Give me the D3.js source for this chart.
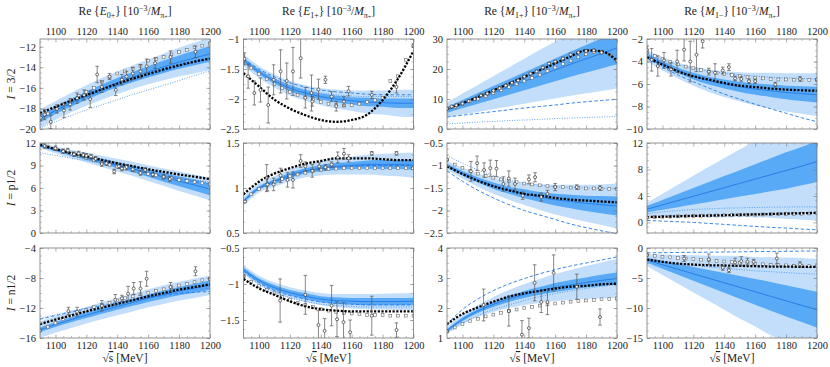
<!DOCTYPE html>
<html>
<head>
<meta charset="utf-8">
<script src="https://cdn.jsdelivr.net/npm/d3@7"></script>
<style>
body{margin:0;background:#fff}
svg, svg text{font-family:"Liberation Serif","DejaVu Serif",serif}
</style>
</head>
<body>
<svg width="830" height="367"></svg>
<script>
// panels in reading order: row I=3/2, I=p1/2, I=n1/2 ; columns E0+, E1+, M1+, M1-
const energies = [1090,1100,1110,1120,1130,1140,1150,1160,1170,1180,1190,1200]
const sqEnergies = [1090,1095,1100,1105,1110,1115,1120,1125,1130,1135,1140,1145,1150,1155,1160,1165,1170,1175,1180,1185,1190,1195,1200]
const xTicks = [1100,1120,1140,1160,1180,1200]

const titles = [["E","0+"],["E","1+"],["M","1+"],["M","1−"]]
const rowLabels = ["3/2","p1/2","n1/2"]

const yDomains = [[-20,-11.25],[-2.5,-1],[0,30],[-10,-2],
                  [0,12],[0.5,1.5],[-2.5,-0.5],[-1.6,12],
                  [-16,-4],[-1.75,-0.5],[1,4],[-15,0]]
const yTicks = [[-20,-18,-16,-14,-12],[-2.5,-2,-1.5,-1],[0,10,20,30],[-10,-8,-6,-4,-2],
                [0,3,6,9,12],[0.5,1,1.5],[-2.5,-2,-1.5,-1,-0.5],[0,4,8,12],
                [-16,-12,-8,-4],[-1.5,-1,-0.5],[1,2,3,4],[-15,-10,-5,0]]

const blueMid = [
  [-19.0,-18.2,-17.45,-16.75,-16.1,-15.5,-14.95,-14.45,-13.95,-13.5,-13.1,-12.7],
  [-1.35,-1.55,-1.7,-1.82,-1.9,-1.96,-2.0,-2.03,-2.05,-2.06,-2.07,-2.07],
  [6.3,8.3,10.2,12.1,14.0,15.9,17.8,19.7,21.6,23.4,25.2,27.0],
  [-3.5,-4.2,-4.8,-5.3,-5.7,-6.0,-6.25,-6.45,-6.6,-6.75,-6.85,-6.95],
  [11.7,11.1,10.55,10.05,9.55,9.05,8.55,8.0,7.45,6.9,6.4,5.85],
  [0.85,1.0,1.07,1.14,1.19,1.22,1.24,1.25,1.26,1.26,1.26,1.255],
  [-1.0,-1.17,-1.32,-1.45,-1.55,-1.63,-1.7,-1.76,-1.8,-1.84,-1.87,-1.9],
  [2.0,2.65,3.3,3.95,4.6,5.25,5.9,6.55,7.2,7.85,8.5,9.2],
  [-14.9,-14.2,-13.55,-12.95,-12.35,-11.8,-11.25,-10.7,-10.2,-9.75,-9.35,-8.95],
  [-0.8,-0.95,-1.05,-1.12,-1.17,-1.21,-1.23,-1.24,-1.245,-1.245,-1.245,-1.24],
  [1.25,1.62,1.9,2.12,2.3,2.45,2.57,2.68,2.77,2.85,2.92,2.98],
  [-2.0,-2.8,-3.55,-4.3,-5.05,-5.8,-6.55,-7.3,-8.05,-8.8,-9.55,-10.3]
]
const innerWidth = [
  [0.35,0.35,0.38,0.4,0.42,0.45,0.5,0.55,0.6,0.65,0.7,0.75],
  [0.04,0.04,0.04,0.05,0.05,0.05,0.06,0.06,0.07,0.07,0.08,0.08],
  [1.0,1.4,1.8,2.2,2.6,3.0,3.4,3.8,4.2,4.6,5.0,5.4],
  [0.2,0.22,0.25,0.3,0.35,0.4,0.45,0.5,0.55,0.6,0.65,0.7],
  [0.15,0.2,0.25,0.3,0.35,0.4,0.45,0.5,0.6,0.65,0.75,0.8],
  [0.02,0.02,0.025,0.03,0.03,0.035,0.04,0.04,0.045,0.05,0.05,0.055],
  [0.04,0.05,0.06,0.07,0.08,0.1,0.11,0.13,0.15,0.17,0.19,0.21],
  [0.5,0.75,1.0,1.25,1.5,1.75,2.0,2.25,2.5,2.75,2.9,3.1],
  [0.3,0.32,0.35,0.38,0.4,0.43,0.46,0.5,0.53,0.56,0.6,0.63],
  [0.03,0.03,0.035,0.035,0.04,0.04,0.045,0.045,0.05,0.05,0.05,0.05],
  [0.05,0.06,0.07,0.09,0.1,0.12,0.13,0.15,0.16,0.17,0.19,0.2],
  [0.4,0.65,0.9,1.15,1.4,1.65,1.9,2.15,2.4,2.6,2.8,3.0]
]
const outerWidth = [
  [0.9,0.9,0.95,1.0,1.05,1.1,1.15,1.2,1.3,1.4,1.5,1.6],
  [0.1,0.1,0.11,0.12,0.13,0.14,0.16,0.17,0.19,0.2,0.22,0.23],
  [2.5,3.5,4.5,5.5,6.5,7.5,8.5,9.5,10.5,11.5,12.5,13.5],
  [0.5,0.6,0.7,0.85,1.0,1.15,1.3,1.45,1.6,1.7,1.8,1.9],
  [0.35,0.45,0.55,0.65,0.75,0.85,0.95,1.05,1.15,1.3,1.4,1.5],
  [0.05,0.05,0.06,0.065,0.07,0.08,0.09,0.1,0.11,0.12,0.13,0.14],
  [0.1,0.12,0.15,0.18,0.21,0.25,0.29,0.33,0.37,0.41,0.45,0.5],
  [1.0,1.7,2.4,3.1,3.8,4.5,5.1,5.8,6.5,7.3,8.1,8.9],
  [1.1,1.1,1.1,1.1,1.15,1.15,1.2,1.2,1.25,1.25,1.3,1.3],
  [0.06,0.065,0.07,0.075,0.08,0.085,0.09,0.1,0.105,0.11,0.115,0.12],
  [0.12,0.16,0.2,0.25,0.3,0.35,0.4,0.45,0.5,0.55,0.6,0.65],
  [1.0,1.7,2.4,3.1,3.8,4.5,5.2,5.8,6.5,7.2,7.9,8.5]
]
const blueDash = [
  [-19.0,-18.25,-17.55,-16.9,-16.3,-15.75,-15.25,-14.8,-14.35,-13.9,-13.5,-13.1],
  [-1.33,-1.5,-1.63,-1.73,-1.8,-1.85,-1.88,-1.9,-1.92,-1.93,-1.93,-1.93],
  [4.0,4.6,5.2,5.8,6.4,7.0,7.5,8.0,8.6,9.1,9.5,9.9],
  [-3.7,-4.5,-5.2,-5.8,-6.35,-6.9,-7.35,-7.8,-8.2,-8.6,-9.0,-9.35],
  [11.6,11.05,10.5,10.0,9.5,9.0,8.5,8.05,7.6,7.2,6.85,6.5],
  [0.85,0.99,1.07,1.13,1.18,1.21,1.23,1.24,1.25,1.25,1.25,1.25],
  [-1.12,-1.35,-1.55,-1.72,-1.87,-2.0,-2.1,-2.2,-2.3,-2.38,-2.45,-2.52],
  [0.3,0.2,0.1,0.0,-0.15,-0.3,-0.45,-0.6,-0.75,-0.85,-1.0,-1.1],
  [-13.5,-13.0,-12.55,-12.1,-11.7,-11.3,-10.95,-10.6,-10.3,-10.05,-9.9,-9.8],
  [-0.82,-0.98,-1.09,-1.16,-1.21,-1.25,-1.27,-1.28,-1.29,-1.29,-1.29,-1.29],
  [1.45,1.95,2.3,2.58,2.8,2.98,3.14,3.28,3.4,3.5,3.6,3.7],
  [-0.8,-0.78,-0.75,-0.72,-0.7,-0.67,-0.64,-0.6,-0.57,-0.55,-0.52,-0.5]
]
const blueDot = [
  [-19.9,-19.3,-18.7,-18.15,-17.65,-17.15,-16.65,-16.2,-15.75,-15.3,-14.8,-14.35],
  [-1.35,-1.52,-1.66,-1.77,-1.85,-1.9,-1.93,-1.95,-1.96,-1.96,-1.96,-1.96],
  [1.7,2.0,2.3,2.5,2.8,3.0,3.2,3.45,3.65,3.85,4.0,4.2],
  [-3.3,-3.9,-4.3,-4.6,-4.85,-5.05,-5.2,-5.3,-5.4,-5.45,-5.5,-5.55],
  [10.7,10.35,10.0,9.65,9.25,8.9,8.5,8.15,7.8,7.45,7.1,6.8],
  [0.86,1.0,1.08,1.15,1.2,1.23,1.25,1.26,1.27,1.27,1.27,1.27],
  [-0.78,-0.95,-1.1,-1.22,-1.32,-1.39,-1.44,-1.47,-1.49,-1.5,-1.51,-1.52],
  [1.3,1.6,1.8,1.95,2.05,2.15,2.2,2.25,2.3,2.32,2.35,2.35],
  [-13.4,-12.9,-12.45,-12.0,-11.6,-11.2,-10.8,-10.45,-10.1,-9.8,-9.55,-9.35],
  [-0.84,-1.0,-1.11,-1.19,-1.24,-1.28,-1.3,-1.31,-1.32,-1.32,-1.32,-1.32],
  [1.2,1.5,1.75,1.95,2.1,2.25,2.38,2.48,2.57,2.65,2.72,2.78],
  [-1.9,-2.3,-2.6,-2.9,-3.15,-3.4,-3.6,-3.8,-3.95,-4.1,-4.25,-4.35]
]
const blackDots = [
  [-18.45,-17.85,-17.25,-16.7,-16.15,-15.6,-15.1,-14.65,-14.2,-13.8,-13.45,-13.15],
  [-1.57,-1.79,-2.01,-2.16,-2.27,-2.35,-2.38,-2.35,-2.26,-2.02,-1.66,-1.2],
  [6.7,8.6,10.7,12.9,15.1,17.4,19.6,21.9,24.2,26.2,25.9,22.8],
  [-3.6,-4.28,-4.87,-5.32,-5.61,-5.91,-6.15,-6.27,-6.41,-6.5,-6.56,-6.6],
  [11.75,11.2,10.65,10.2,9.75,9.3,8.9,8.5,8.15,7.8,7.5,7.2],
  [0.93,1.07,1.16,1.22,1.27,1.3,1.33,1.33,1.33,1.32,1.31,1.31],
  [-1.02,-1.19,-1.34,-1.46,-1.55,-1.63,-1.67,-1.72,-1.76,-1.78,-1.8,-1.82],
  [0.8,0.86,0.92,0.98,1.03,1.09,1.15,1.21,1.27,1.33,1.39,1.44],
  [-14.15,-13.55,-13.0,-12.45,-11.95,-11.45,-10.95,-10.45,-10.0,-9.55,-9.2,-8.85],
  [-0.93,-1.06,-1.15,-1.24,-1.31,-1.35,-1.37,-1.38,-1.38,-1.38,-1.38,-1.38],
  [1.46,1.8,2.02,2.21,2.38,2.49,2.57,2.65,2.71,2.74,2.79,2.81],
  [-1.93,-2.3,-2.6,-2.76,-2.87,-2.92,-2.98,-3.03,-3.09,-3.09,-3.14,-3.14]
]
const squares = [
  [-19.0,-18.5,-18.0,-17.6,-17.2,-16.8,-16.4,-16.0,-15.4,-14.95,-14.6,-14.4,-14.15,-13.85,-13.35,-13.2,-13.0,-12.75,-12.5,-12.3,-12.05,-11.9,-11.7],
  [-1.35,-1.48,-1.58,-1.67,-1.75,-1.82,-1.88,-1.93,-1.97,-2.01,-2.05,-2.08,-2.1,-2.11,-2.1,-2.08,-2.05,-2.02,-1.98,-1.7,-1.62,-1.35,-1.12],
  [6.6,7.4,8.3,9.2,10.1,11.0,12.0,12.9,13.9,14.9,16.0,17.0,18.1,19.3,20.5,21.7,22.8,23.9,24.9,25.6,25.8,24.8,22.8],
  [-3.2,-3.5,-3.8,-4.05,-4.25,-4.45,-4.6,-4.75,-4.9,-5.0,-5.1,-5.2,-5.3,-5.4,-5.45,-5.5,-5.55,-5.6,-5.6,-5.62,-5.62,-5.63,-5.63],
  [11.9,11.5,11.2,10.9,10.6,10.3,10.0,9.7,9.4,9.1,8.85,8.6,8.35,8.1,7.9,7.7,7.5,7.3,7.1,6.95,6.8,6.65,6.5],
  [0.85,0.93,0.99,1.03,1.07,1.1,1.13,1.15,1.17,1.19,1.2,1.21,1.215,1.22,1.22,1.22,1.22,1.22,1.22,1.22,1.22,1.22,1.22],
  [-0.88,-0.98,-1.05,-1.12,-1.18,-1.23,-1.27,-1.31,-1.34,-1.37,-1.4,-1.42,-1.44,-1.46,-1.47,-1.48,-1.49,-1.5,-1.51,-1.51,-1.52,-1.52,-1.52],
  [0.75,0.8,0.85,0.88,0.92,0.95,0.98,1.0,1.03,1.05,1.08,1.1,1.12,1.15,1.17,1.2,1.22,1.25,1.27,1.3,1.32,1.35,1.38],
  [-15.0,-14.5,-14.0,-13.5,-13.1,-12.7,-12.3,-11.9,-11.6,-11.3,-11.0,-10.7,-10.45,-10.2,-9.95,-9.7,-9.5,-9.25,-9.0,-8.8,-8.55,-8.3,-8.1],
  [-0.9,-0.97,-1.03,-1.08,-1.13,-1.18,-1.22,-1.26,-1.29,-1.32,-1.35,-1.37,-1.39,-1.4,-1.41,-1.42,-1.43,-1.43,-1.43,-1.44,-1.44,-1.44,-1.44],
  [1.22,1.35,1.47,1.56,1.64,1.72,1.78,1.84,1.9,1.95,2.0,2.04,2.08,2.12,2.15,2.18,2.21,2.23,2.25,2.27,2.29,2.3,2.32],
  [-1.1,-1.3,-1.45,-1.55,-1.65,-1.75,-1.85,-1.95,-2.05,-2.15,-2.25,-2.35,-2.45,-2.55,-2.65,-2.72,-2.8,-2.85,-2.9,-2.95,-3.0,-3.02,-3.05]
]
const pointX = [
  [1090.4,1093,1097,1101,1105.5,1109.5,1114,1118.5,1122.5,1127,1130,1135,1139,1143,1146,1150,1155,1159,1164.5,1174.5,1190.6],
  [1090.6,1093,1097,1101,1106,1109.5,1114,1118,1122,1127,1130,1134,1134.5,1138.5,1143,1147,1150,1155,1158,1173,1189,1200],
  [1090,1093,1096,1100,1104,1108,1112,1116,1120,1124,1128,1132,1136,1140,1144,1148,1152,1156,1160,1165,1170,1175,1180,1185,1190,1200],
  [1090,1093,1097,1101,1105.5,1109.5,1114,1118,1122,1126,1130,1134,1139,1143,1147,1151,1156,1160,1173,1189,1200],
  [1093,1100,1105,1108,1112,1115,1118,1120,1123,1126,1130,1133,1138,1141,1143,1146,1150,1155,1158,1163,1170,1174],
  [1091,1105,1105.5,1109.5,1114,1118.5,1122,1127,1130,1134.5,1139,1143,1147,1151,1155,1158,1173,1189,1199.5],
  [1090,1105.5,1109.5,1114,1118,1122,1126.5,1130,1134,1139,1143,1147,1151,1155,1160,1174,1189],
  [1090],
  [1090,1108.4,1114,1130,1138.7,1143,1147,1150.6,1155,1159,1174.5,1190.6,1200],
  [1090,1113.7,1130,1138.5,1142.5,1147,1150.5,1154.7,1159,1173,1189],
  [1090,1113.7,1130,1138.5,1143,1146.7,1151,1155,1159,1174,1189],
  [1090,1114,1130,1139,1143,1147,1151,1155,1159,1174,1189]
]
const pointY = [
  [-18.9,-18.6,-19.3,-18.05,-18.2,-17.6,-17.0,-16.7,-17.1,-14.7,-15.9,-14.9,-16.2,-15.2,-14.9,-14.6,-14.4,-13.9,-13.6,-13.0,-12.5],
  [-1.33,-1.62,-1.9,-1.85,-2.1,-1.68,-1.54,-1.7,-1.54,-1.32,-1.98,-1.9,-2.04,-1.84,-1.68,-1.96,-2.12,-2.04,-1.87,-1.93,-1.8,-1.11],
  [6.8,7.5,7.9,8.5,9.3,10.0,11.2,11.8,12.8,13.6,14.5,15.4,16.2,17.5,18.5,19.2,20.5,21.8,22.5,23.5,24.8,25.5,26.0,26.2,25.5,22.8],
  [-2.95,-3.85,-4.4,-3.9,-4.7,-4.0,-2.95,-4.0,-3.4,-2.2,-4.9,-5.0,-4.8,-4.5,-5.5,-5.55,-5.75,-5.75,-6.05,-5.55,-5.6],
  [11.6,11.3,10.9,11.0,10.5,10.6,10.4,10.3,10.2,9.9,9.2,9.3,8.2,8.9,8.6,8.8,8.5,8.0,8.4,7.8,7.5,7.2],
  [0.85,1.11,1.04,1.04,1.14,1.09,1.09,1.3,1.24,1.19,1.24,1.23,1.26,1.34,1.38,1.33,1.385,1.385,1.22],
  [-0.87,-1.13,-0.95,-1.1,-1.06,-1.07,-1.41,-1.29,-1.41,-1.67,-1.31,-1.26,-1.7,-1.63,-1.48,-1.48,-1.5],
  [0.75],
  [-15.0,-12.4,-12.5,-11.7,-10.9,-10.7,-10.1,-9.4,-9.4,-8.1,-9.2,-7.1,-8.15],
  [-0.89,-1.23,-1.15,-1.57,-1.65,-1.3,-1.49,-1.53,-1.67,-1.44,-1.64],
  [1.22,2.1,1.9,1.11,1.33,2.84,2.2,2.2,3.17,2.71,1.7],
  [-1.2,-1.75,-1.9,-3.3,-3.7,-2.4,-2.2,-2.3,-2.3,-1.75,-2.7]
]
const pointErr = [
  [0.3,0.5,0.65,0.4,0.7,0.55,0.5,0.5,0.8,0.8,0.55,0.3,0.55,0.5,0.5,0.6,0.65,0.7,0.5,0.6,0.55],
  [0.1,0.2,0.2,0.2,0.3,0.25,0.36,0.3,0.4,0.33,0.17,0.3,0.08,0.17,0.06,0.08,0.08,0.08,0.08,0.06,0.1,0.03],
  [0.4,0.4,0.4,0.4,0.4,0.4,0.4,0.4,0.4,0.4,0.4,0.4,0.4,0.4,0.4,0.4,0.4,0.4,0.4,0.4,0.4,0.4,0.4,0.4,0.4,0.4],
  [0.3,1.0,0.9,0.7,0.6,1.0,1.0,1.8,1.5,0.6,0.3,0.8,0.3,0.3,0.2,0.2,0.2,0.2,0.2,0.2,0.1],
  [0.3,0.3,0.3,0.3,0.3,0.3,0.3,0.3,0.3,0.3,0.3,0.3,0.3,0.3,0.3,0.3,0.3,0.3,0.3,0.3,0.3,0.3],
  [0.01,0.15,0.07,0.07,0.08,0.08,0.09,0.07,0.05,0.07,0.04,0.03,0.03,0.06,0.06,0.04,0.02,0.02,0.01],
  [0.02,0.22,0.16,0.16,0.18,0.18,0.16,0.17,0.13,0.08,0.1,0.1,0.09,0.08,0.08,0.05,0.05],
  [0.05],
  [0.1,0.5,0.6,0.7,0.7,0.4,1.0,0.8,0.9,1.0,0.6,0.6,0.1],
  [0.02,0.3,0.27,0.2,0.17,0.28,0.24,0.27,0.17,0.27,0.1],
  [0.02,0.53,0.5,0.47,0.33,0.6,0.35,0.42,0.6,0.42,0.27],
  [0.1,0.5,0.9,0.4,0.4,0.7,0.75,0.6,0.4,0.9,0.4]
]

const svg = d3.select("svg")
const serif = "'Liberation Serif', 'DejaVu Serif', serif"

const colLeft = [40, 243.5, 447, 647]
const rowTop = [39, 143, 248]
const pw = 170, ph = 90

const lightBlue = "#c2defb"
const darkBlue = "#58a9f6"
const lineBlue = "#2479e4"

const fmt = v => String(v).replace("-", "−")

for (let i = 0; i < 12; i++) {
    const r = Math.floor(i / 4), c = i % 4
    const x0 = colLeft[c], y0 = rowTop[r]

    const x = d3.scaleLinear().domain([1090, 1200]).range([x0, x0 + pw])
    const y = d3.scaleLinear().domain(yDomains[i]).range([y0 + ph, y0])

    const g = svg.append("g").attr("class", "panel")

    g.append("clipPath").attr("id", "clip" + i)
        .append("rect").attr("x", x0).attr("y", y0).attr("width", pw).attr("height", ph)

    const body = g.append("g").attr("clip-path", `url(#clip${i})`)

    const pts = energies.map((e, k) => ({e: e, m: blueMid[i][k], wi: innerWidth[i][k], wo: outerWidth[i][k]}))

    body.append("path")
        .datum(pts)
        .attr("fill", lightBlue)
        .attr("d", d3.area().curve(d3.curveMonotoneX)
            .x(d => x(d.e)).y0(d => y(d.m - d.wo)).y1(d => y(d.m + d.wo)))

    body.append("path")
        .datum(pts)
        .attr("fill", darkBlue)
        .attr("d", d3.area().curve(d3.curveMonotoneX)
            .x(d => x(d.e)).y0(d => y(d.m - d.wi)).y1(d => y(d.m + d.wi)))

    const line = d3.line().curve(d3.curveMonotoneX)
        .x((d, k) => x(energies[k])).y(d => y(d))

    body.append("path").datum(blueMid[i])
        .attr("fill", "none").attr("stroke", lineBlue).attr("stroke-width", 0.9)
        .attr("d", line)
    body.append("path").datum(blueDash[i])
        .attr("fill", "none").attr("stroke", lineBlue).attr("stroke-width", 0.9)
        .attr("stroke-dasharray", "3.5,2.2")
        .attr("d", line)
    body.append("path").datum(blueDot[i])
        .attr("fill", "none").attr("stroke", "#3d8ef0").attr("stroke-width", 0.9)
        .attr("stroke-dasharray", "0.9,1.6")
        .attr("d", line)

    // open squares
    body.selectAll("rect.sq")
        .data(squares[i])
        .enter()
        .append("rect")
        .attr("class", "sq")
        .attr("x", (d, k) => x(sqEnergies[k]) - 1.4)
        .attr("y", d => y(d) - 1.4)
        .attr("width", 2.8)
        .attr("height", 2.8)
        .attr("fill", "#fff")
        .attr("stroke", "#666")
        .attr("stroke-width", 0.6)

    body.append("path").datum(blackDots[i])
        .attr("fill", "none").attr("stroke", "#000").attr("stroke-width", 2.3)
        .attr("stroke-dasharray", "2.2,1.5")
        .attr("d", line)

    // data with error bars
    const data = pointX[i].map((e, k) => ({e: e, v: pointY[i][k], s: pointErr[i][k]}))
    const pt = body.selectAll("g.pt")
        .data(data)
        .enter()
        .append("g")
        .attr("class", "pt")

    pt.append("line")
        .attr("x1", d => x(d.e)).attr("x2", d => x(d.e))
        .attr("y1", d => y(d.v - d.s)).attr("y2", d => y(d.v + d.s))
        .attr("stroke", "#555").attr("stroke-width", 0.7)
    pt.append("line")
        .attr("x1", d => x(d.e) - 1.8).attr("x2", d => x(d.e) + 1.8)
        .attr("y1", d => y(d.v - d.s)).attr("y2", d => y(d.v - d.s))
        .attr("stroke", "#555").attr("stroke-width", 0.7)
    pt.append("line")
        .attr("x1", d => x(d.e) - 1.8).attr("x2", d => x(d.e) + 1.8)
        .attr("y1", d => y(d.v + d.s)).attr("y2", d => y(d.v + d.s))
        .attr("stroke", "#555").attr("stroke-width", 0.7)
    pt.append("circle")
        .attr("cx", d => x(d.e)).attr("cy", d => y(d.v))
        .attr("r", 1.5)
        .attr("fill", "#fff").attr("stroke", "#333").attr("stroke-width", 0.7)

    // frame and ticks (inward, all sides)
    const axes = [
        [d3.axisLeft(y).tickValues(yTicks[i]).tickFormat(fmt), `translate(${x0},0)`],
        [d3.axisRight(y).tickValues(yTicks[i]).tickFormat(""), `translate(${x0 + pw},0)`],
        [d3.axisTop(x).tickValues(xTicks).tickFormat(r === 0 ? d3.format("d") : ""), `translate(0,${y0})`],
        [d3.axisBottom(x).tickValues(xTicks).tickFormat(r === 2 ? d3.format("d") : ""), `translate(0,${y0 + ph})`]
    ]
    axes.forEach(a => {
        const ag = g.append("g").attr("transform", a[1])
            .call(a[0].tickSize(-3.5).tickSizeOuter(0).tickPadding(4))
        ag.attr("font-family", null).attr("font-size", null)
        ag.select(".domain").remove()
        ag.selectAll("line").attr("stroke", "#777").attr("stroke-width", 0.6)
        ag.selectAll("text")
            .style("font-family", serif)
            .style("font-size", "10.5px")
            .attr("fill", "#222")
    })

    // minor ticks
    const minorX = d3.range(1095, 1200, 5).filter(v => v % 20 !== 0)
    const dy = yTicks[i][1] - yTicks[i][0]
    const minorY = d3.range(yDomains[i][0], yDomains[i][1] + 1e-9, dy / 4)
    const minors = [
        [d3.axisLeft(y).tickValues(minorY), `translate(${x0},0)`],
        [d3.axisRight(y).tickValues(minorY), `translate(${x0 + pw},0)`],
        [d3.axisTop(x).tickValues(minorX), `translate(0,${y0})`],
        [d3.axisBottom(x).tickValues(minorX), `translate(0,${y0 + ph})`]
    ]
    minors.forEach(a => {
        const ag = g.append("g").attr("transform", a[1])
            .call(a[0].tickSize(-2).tickSizeOuter(0).tickFormat(""))
        ag.select(".domain").remove()
        ag.selectAll("line").attr("stroke", "#888").attr("stroke-width", 0.5)
    })

    g.append("rect")
        .attr("x", x0).attr("y", y0).attr("width", pw).attr("height", ph)
        .attr("fill", "none").attr("stroke", "#777").attr("stroke-width", 0.8)
}

// column titles
titles.forEach((t, c) => {
    const cx = colLeft[c] + pw / 2
    const tx = svg.append("text")
        .attr("x", cx).attr("y", 15)
        .attr("text-anchor", "middle")
        .style("font-family", serif)
        .attr("font-size", 11.5)
        .attr("fill", "#222")
    tx.append("tspan").text("Re {")
    tx.append("tspan").attr("font-style", "italic").text(t[0])
    tx.append("tspan").attr("font-size", 8).attr("dy", 2.5).text(t[1])
    tx.append("tspan").attr("dy", -2.5).text("} [10")
    tx.append("tspan").attr("font-size", 8).attr("dy", -4.5).text("−3")
    tx.append("tspan").attr("dy", 4.5).text("/")
    tx.append("tspan").attr("font-style", "italic").text("M")
    tx.append("tspan").attr("font-size", 8).attr("dy", 2.5).text("π")
    tx.append("tspan").attr("font-size", 6).attr("dy", 1.5).text("+")
    tx.append("tspan").attr("dy", -4).text("]")
})

// row labels
rowLabels.forEach((lab, r) => {
    const cy = rowTop[r] + ph / 2
    const tx = svg.append("text")
        .attr("transform", `translate(15,${cy}) rotate(-90)`)
        .attr("text-anchor", "middle")
        .style("font-family", serif)
        .attr("font-size", 11.5)
        .attr("fill", "#222")
    tx.append("tspan").attr("font-style", "italic").text("I")
    tx.append("tspan").text(" = " + lab)
})

// x axis labels
colLeft.forEach(x0 => {
    const tx = svg.append("text")
        .attr("x", x0 + pw / 2).attr("y", 362)
        .attr("text-anchor", "middle")
        .style("font-family", serif)
        .attr("font-size", 11.5)
        .attr("fill", "#222")
    tx.append("tspan").text("√")
    tx.append("tspan").attr("text-decoration", "overline").text("s")
    tx.append("tspan").text(" [MeV]")
})
</script>
</body>
</html>
